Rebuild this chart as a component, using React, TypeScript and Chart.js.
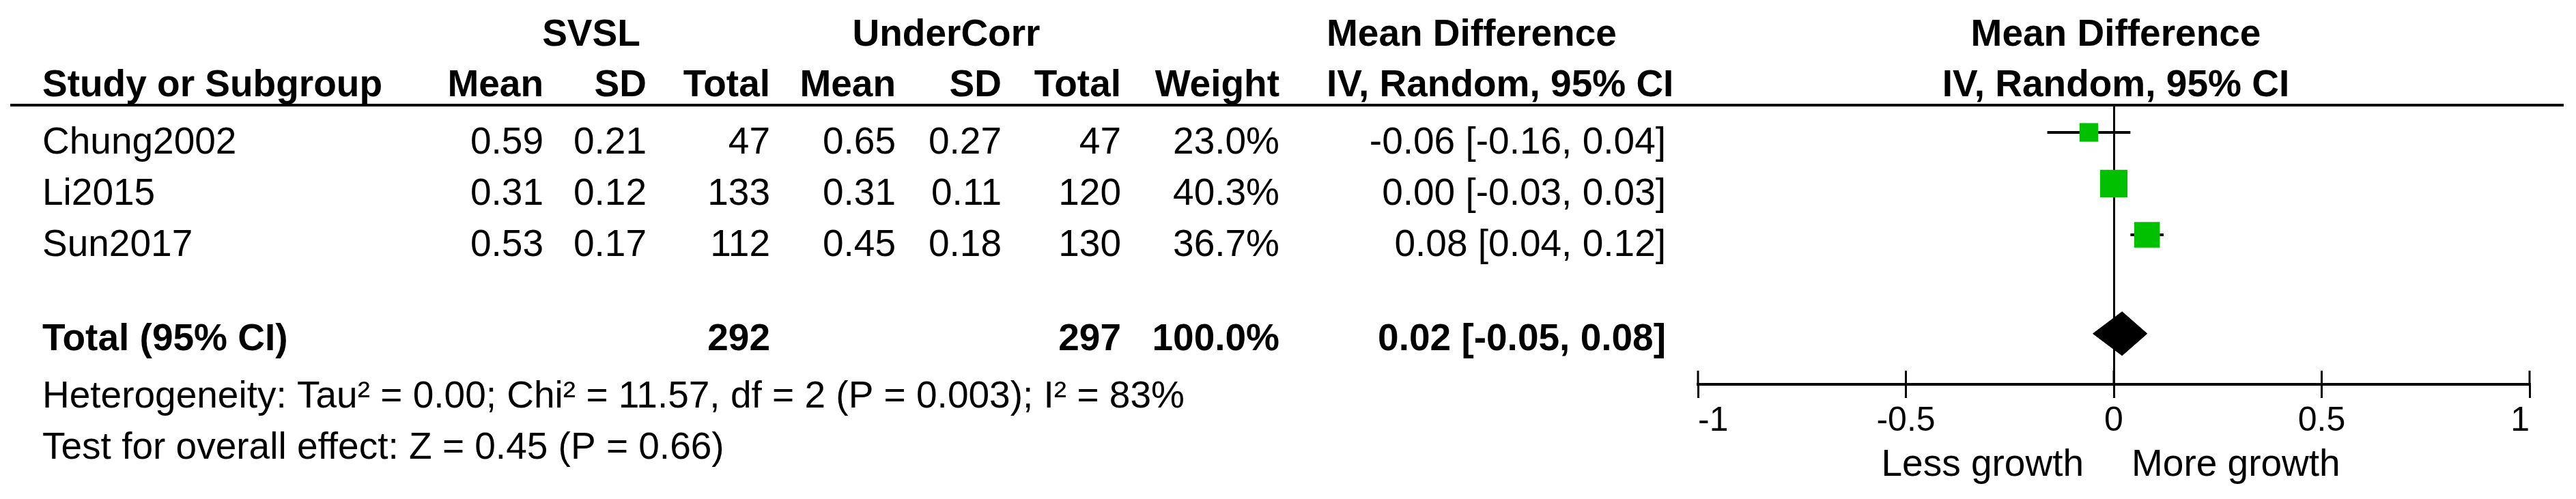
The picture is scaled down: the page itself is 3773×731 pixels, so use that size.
import { useEffect, useRef } from 'react';
import { Chart, registerables } from 'chart.js';

Chart.register(...registerables);

// ---------- data ----------
const studies = ['Chung2002', 'Li2015', 'Sun2017'];
const svslMean = [0.59, 0.31, 0.53];
const svslSD = [0.21, 0.12, 0.17];
const svslTotal = [47, 133, 112];
const underMean = [0.65, 0.31, 0.45];
const underSD = [0.27, 0.11, 0.18];
const underTotal = [47, 120, 130];
const weights = [23.0, 40.3, 36.7];
const meanDiff = [-0.06, 0.0, 0.08];
const ciLow = [-0.16, -0.03, 0.04];
const ciHigh = [0.04, 0.03, 0.12];
const studyRows = [1, 2, 3];

const totalLabel = 'Total (95% CI)';
const totalSvsl = 292;
const totalUnder = 297;
const totalWeight = 100.0;
const totalMD = 0.02;
const totalLow = -0.05;
const totalHigh = 0.08;
const totalRow = 4.93;

const groupHeaders = ['SVSL', 'UnderCorr'];
const effectHeader = 'Mean Difference';
const methodHeader = 'IV, Random, 95% CI';
const columnHeaders = ['Study or Subgroup', 'Mean', 'SD', 'Total', 'Mean', 'SD', 'Total', 'Weight'];
const heterogeneityText = 'Heterogeneity: Tau\u00B2 = 0.00; Chi\u00B2 = 11.57, df = 2 (P = 0.003); I\u00B2 = 83%';
const overallText = 'Test for overall effect: Z = 0.45 (P = 0.66)';
const xTicks = [-1, -0.5, 0, 0.5, 1];
const favoursLeft = 'Less growth';
const favoursRight = 'More growth';

// ---------- layout ----------
const W = 3773;
const H = 731;
const FONT = '"Liberation Sans", Arial, Helvetica, sans-serif';
const FS = 55;
const PLOT_LEFT = 2487;
const PLOT_RIGHT = 3705;
const PLOT_TOP = 154;
const PLOT_BOTTOM = 563;
const Y_MIN = 0.467;
const Y_MAX = 5.92;
const DIAMOND_HALF = 0.427;
const COL = {
  name: 62,
  svMean: 796,
  svSD: 947,
  svN: 1128,
  ucMean: 1312,
  ucSD: 1467,
  ucN: 1642,
  weight: 1874,
  mdLeft: 1943,
  md: 2440,
};
const GROUP_CENTER = [866, 1386];
const HEAD1_Y = 67;
const HEAD2_Y = 141;
const STUDY_TEXT_OFFSET = 31;
const TOTAL_TEXT_OFFSET = 24;
const HET_Y = 597;
const OVERALL_Y = 672;
const FAVOURS_Y = 697;

const fmt2 = (v: number) => v.toFixed(2);
const ciText = (m: number, lo: number, hi: number) => `${fmt2(m)} [${fmt2(lo)}, ${fmt2(hi)}]`;

const tablePlugin = {
  id: 'forestTable',
  afterDraw(chart: any) {
    const ctx: CanvasRenderingContext2D = chart.ctx;
    const xs = chart.scales.x;
    const ys = chart.scales.y;
    const area = chart.chartArea;
    const bold = `bold ${FS}px ${FONT}`;
    const reg = `${FS}px ${FONT}`;
    const txt = (s: string, px: number, py: number, align: CanvasTextAlign, font: string) => {
      ctx.font = font;
      ctx.textAlign = align;
      ctx.textBaseline = 'alphabetic';
      ctx.fillText(s, px, py);
    };
    ctx.save();
    ctx.fillStyle = '#000';
    ctx.strokeStyle = '#000';

    // header underline
    ctx.lineWidth = 4;
    ctx.beginPath();
    ctx.moveTo(15, area.top);
    ctx.lineTo(3755, area.top);
    ctx.stroke();

    // upward half of axis ticks
    ctx.lineWidth = 3;
    for (const t of xTicks) {
      const px = xs.getPixelForValue(t);
      ctx.beginPath();
      ctx.moveTo(px, area.bottom - 20);
      ctx.lineTo(px, area.bottom);
      ctx.stroke();
    }

    const plotCenter = xs.getPixelForValue(0) + 3;

    // header row 1
    txt(groupHeaders[0], GROUP_CENTER[0], HEAD1_Y, 'center', bold);
    txt(groupHeaders[1], GROUP_CENTER[1], HEAD1_Y, 'center', bold);
    txt(effectHeader, COL.mdLeft, HEAD1_Y, 'left', bold);
    txt(effectHeader, plotCenter, HEAD1_Y, 'center', bold);

    // header row 2
    txt(columnHeaders[0], COL.name, HEAD2_Y, 'left', bold);
    txt(columnHeaders[1], COL.svMean, HEAD2_Y, 'right', bold);
    txt(columnHeaders[2], COL.svSD, HEAD2_Y, 'right', bold);
    txt(columnHeaders[3], COL.svN, HEAD2_Y, 'right', bold);
    txt(columnHeaders[4], COL.ucMean, HEAD2_Y, 'right', bold);
    txt(columnHeaders[5], COL.ucSD, HEAD2_Y, 'right', bold);
    txt(columnHeaders[6], COL.ucN, HEAD2_Y, 'right', bold);
    txt(columnHeaders[7], COL.weight, HEAD2_Y, 'right', bold);
    txt(methodHeader, COL.mdLeft, HEAD2_Y, 'left', bold);
    txt(methodHeader, plotCenter, HEAD2_Y, 'center', bold);

    // study rows
    studies.forEach((s, i) => {
      const by = ys.getPixelForValue(studyRows[i]) + STUDY_TEXT_OFFSET;
      txt(s, COL.name, by, 'left', reg);
      txt(fmt2(svslMean[i]), COL.svMean, by, 'right', reg);
      txt(fmt2(svslSD[i]), COL.svSD, by, 'right', reg);
      txt(String(svslTotal[i]), COL.svN, by, 'right', reg);
      txt(fmt2(underMean[i]), COL.ucMean, by, 'right', reg);
      txt(fmt2(underSD[i]), COL.ucSD, by, 'right', reg);
      txt(String(underTotal[i]), COL.ucN, by, 'right', reg);
      txt(weights[i].toFixed(1) + '%', COL.weight, by, 'right', reg);
      txt(ciText(meanDiff[i], ciLow[i], ciHigh[i]), COL.md, by, 'right', reg);
    });

    // total row
    const ty = ys.getPixelForValue(totalRow) + TOTAL_TEXT_OFFSET;
    txt(totalLabel, COL.name, ty, 'left', bold);
    txt(String(totalSvsl), COL.svN, ty, 'right', bold);
    txt(String(totalUnder), COL.ucN, ty, 'right', bold);
    txt(totalWeight.toFixed(1) + '%', COL.weight, ty, 'right', bold);
    txt(ciText(totalMD, totalLow, totalHigh), COL.md, ty, 'right', bold);

    // footnotes
    txt(heterogeneityText, COL.name, HET_Y, 'left', reg);
    txt(overallText, COL.name, OVERALL_Y, 'left', reg);

    // favours labels
    const zero = xs.getPixelForValue(0);
    txt(favoursLeft, zero - 44, FAVOURS_Y, 'right', reg);
    txt(favoursRight, zero + 26, FAVOURS_Y, 'left', reg);

    ctx.restore();
  },
};

export default function App() {
  const ref = useRef<HTMLCanvasElement>(null);
  useEffect(() => {
    document.body.style.margin = '0';
    Chart.defaults.font.family = FONT;
    const whiskers = studies.map((s, i) => ({
      label: s + ' CI',
      data: [
        { x: ciLow[i], y: studyRows[i] },
        { x: ciHigh[i], y: studyRows[i] },
      ],
      showLine: true,
      borderColor: '#000',
      borderWidth: 4,
      pointRadius: 0,
      fill: false,
      order: 2,
    }));
    const chart = new Chart(ref.current as HTMLCanvasElement, {
      type: 'scatter',
      data: {
        datasets: [
          {
            label: 'Studies',
            data: studies.map((_, i) => ({ x: meanDiff[i], y: studyRows[i] })),
            pointStyle: 'rect',
            pointRadius: weights.map((w) => (10 + 0.75 * w) / Math.SQRT2),
            pointBackgroundColor: '#00c000',
            pointBorderWidth: 0,
            showLine: false,
            order: 0,
          } as any,
          ...whiskers,
          {
            label: 'Total upper',
            data: [
              { x: totalLow, y: totalRow },
              { x: totalMD, y: totalRow - DIAMOND_HALF },
              { x: totalHigh, y: totalRow },
            ],
            showLine: true,
            borderColor: '#000',
            borderWidth: 1,
            pointRadius: 0,
            fill: false,
            order: 3,
          },
          {
            label: 'Total lower',
            data: [
              { x: totalLow, y: totalRow },
              { x: totalMD, y: totalRow + DIAMOND_HALF },
              { x: totalHigh, y: totalRow },
            ],
            showLine: true,
            borderColor: '#000',
            backgroundColor: '#000',
            borderWidth: 1,
            pointRadius: 0,
            fill: '-1',
            order: 3,
          },
        ],
      },
      options: {
        animation: false,
        responsive: false,
        devicePixelRatio: 1,
        events: [],
        layout: {
          padding: { left: PLOT_LEFT, right: W - PLOT_RIGHT, top: PLOT_TOP, bottom: 0 },
        },
        plugins: {
          legend: { display: false },
          tooltip: { enabled: false },
        },
        scales: {
          x: {
            type: 'linear',
            position: 'bottom',
            min: -1,
            max: 1,
            afterFit: (s: any) => {
              s.height = H - PLOT_BOTTOM;
            },
            afterBuildTicks: (s: any) => {
              s.ticks = xTicks.map((v) => ({ value: v }));
            },
            ticks: {
              align: 'inner',
              padding: 4,
              color: '#000',
              font: { size: 50, family: FONT },
              callback: (v: any) => String(v),
            },
            grid: {
              drawOnChartArea: true,
              color: (c: any) => (c.tick && c.tick.value === 0 ? '#000' : 'rgba(0,0,0,0)'),
              lineWidth: 3,
              drawTicks: true,
              tickLength: 20,
              tickColor: '#000',
              tickWidth: 3,
            },
            border: { display: true, color: '#000', width: 4 },
          },
          y: {
            type: 'linear',
            min: Y_MIN,
            max: Y_MAX,
            reverse: true,
            display: false,
          },
        },
      } as any,
      plugins: [tablePlugin],
    });
    return () => chart.destroy();
  }, []);
  return <canvas ref={ref} width={W} height={H} style={{ display: 'block', width: W, height: H }} />;
}
